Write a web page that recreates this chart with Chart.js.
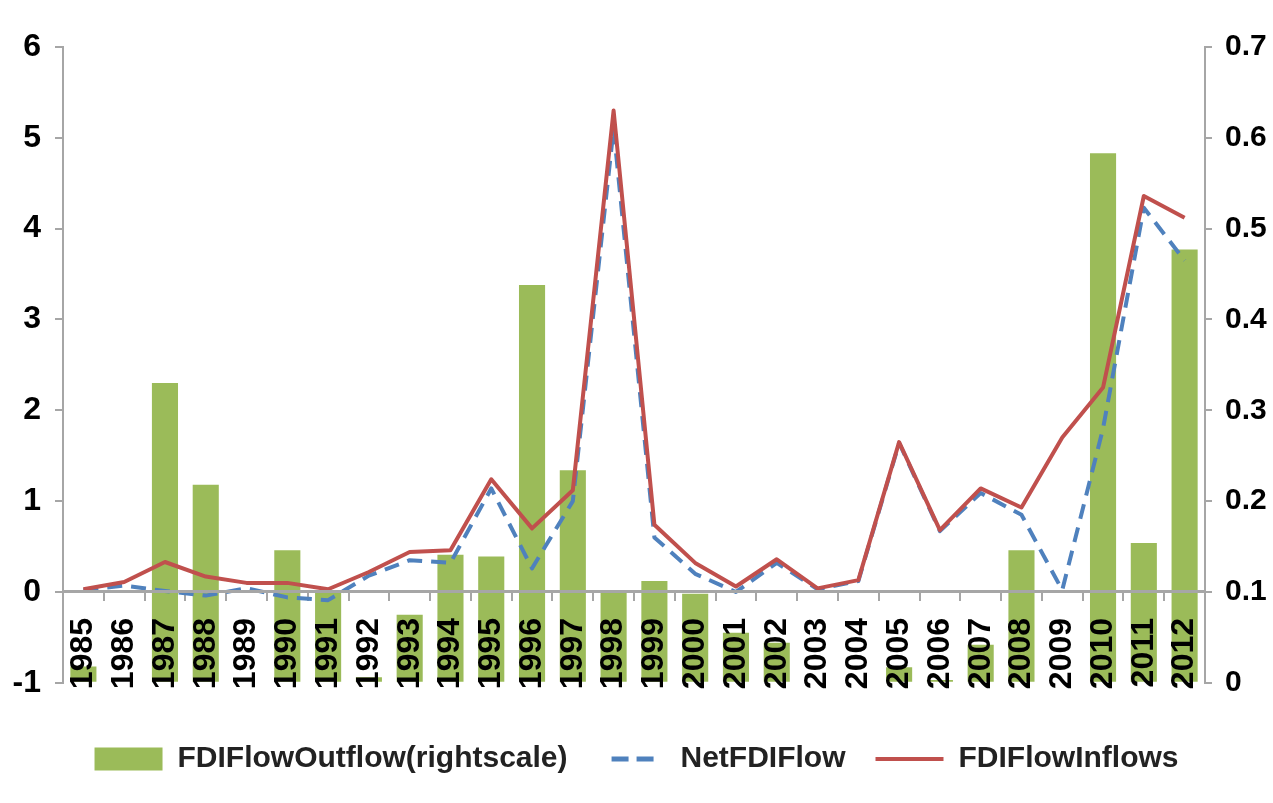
<!DOCTYPE html>
<html>
<head>
<meta charset="utf-8">
<script src="https://cdn.jsdelivr.net/npm/chart.js@4.4.1/dist/chart.umd.min.js"></script>
<style>
  html, body { margin: 0; background: #fff; }
  #wrap { width: 1273px; height: 803px; position: relative; }
</style>
</head>
<body>
<div id="wrap"><canvas id="fdi-chart"></canvas></div>
<script>
// ── FDI flows 1985–2012 ───────────────────────────────────────────────────────
const years = [
  '1985', '1986', '1987', '1988', '1989', '1990', '1991', '1992', '1993', '1994',
  '1995', '1996', '1997', '1998', '1999', '2000', '2001', '2002', '2003', '2004',
  '2005', '2006', '2007', '2008', '2009', '2010', '2011', '2012',
];

// outflow, plotted against the right scale
const outflow = [
  0.018, 0, 0.33, 0.218, 0, 0.146, 0.10, 0.006, 0.075, 0.141,
  0.139, 0.438, 0.234, 0.099, 0.112, 0.098, 0.055, 0.044, 0, 0,
  0.017, 0.003, 0.042, 0.146, 0, 0.583, 0.154, 0.477,
];

const netFlow = [
  0.02, 0.07, 0.01, -0.04, 0.04, -0.06, -0.09, 0.18, 0.35, 0.32,
  1.14, 0.26, 1.00, 5.10, 0.60, 0.20, 0.00, 0.32, 0.03, 0.12,
  1.64, 0.67, 1.09, 0.85, 0.02, 1.80, 4.23, 3.65,
];

const inflows = [
  0.03, 0.11, 0.33, 0.17, 0.10, 0.10, 0.03, 0.22, 0.44, 0.46,
  1.24, 0.70, 1.12, 5.30, 0.74, 0.32, 0.06, 0.36, 0.04, 0.13,
  1.65, 0.68, 1.14, 0.93, 1.70, 2.25, 4.36, 4.12,
];

const leftTicks  = { min: -1, max: 6, step: 1 };
const rightTicks = { min: 0, max: 0.7, step: 0.1 };

const FONT  = "'Liberation Sans', Arial, sans-serif";
const AXIS  = '#a6a6a6';
const GREEN = '#9bbb59';
const BLUE  = '#4f81bd';
const RED   = '#c0504d';

// legend's point-style line ignores borderDash, so hand it a small dashed swatch
function _dashSwatch(color) {
  const c = document.createElement('canvas');
  c.width = 68; c.height = 8;
  const g = c.getContext('2d');
  g.strokeStyle = color;
  g.lineWidth = 5;
  g.setLineDash([17, 8]);
  g.beginPath(); g.moveTo(14, 4); g.lineTo(56, 4); g.stroke();
  return c;
}
const _netSwatch = _dashSwatch(BLUE);

new Chart(document.getElementById('fdi-chart'), {
  type: 'bar',
  data: {
    labels: years,
    datasets: [
      {
        type: 'bar',
        label: 'FDIFlowOutflow(rightscale)',
        data: outflow,
        yAxisID: 'y1',
        backgroundColor: GREEN,
        borderWidth: 0,
        barPercentage: 0.64,
        categoryPercentage: 1,
        pointStyle: 'rect',
        order: 3,
      },
      {
        type: 'line',
        label: 'NetFDIFlow',
        data: netFlow,
        yAxisID: 'y',
        borderColor: BLUE,
        backgroundColor: BLUE,
        borderWidth: 4,
        borderDash: [15, 9],
        borderJoinStyle: 'round',
        pointRadius: 0,
        pointStyle: 'line',
        tension: 0,
        order: 2,
      },
      {
        type: 'line',
        label: 'FDIFlowInflows',
        data: inflows,
        yAxisID: 'y',
        borderColor: RED,
        backgroundColor: RED,
        borderWidth: 4,
        borderJoinStyle: 'round',
        pointRadius: 0,
        pointStyle: 'line',
        tension: 0,
        order: 1,
      },
    ],
  },
  options: {
    responsive: true,
    maintainAspectRatio: false,
    animation: false,
    layout: { padding: { top: 47, left: 0, right: 0, bottom: 19 } },
    plugins: {
      tooltip: { enabled: false },
      legend: {
        position: 'bottom',
        // blank title only pushes the legend row down, away from the year labels
        title: { display: true, text: ' ', font: { size: 1 }, padding: { top: 30, bottom: 0 } },
        labels: {
          usePointStyle: true,
          pointStyleWidth: 68,
          boxHeight: 23,
          padding: 30,
          color: '#222',
          font: { family: FONT, size: 30, weight: 'bold' },
          sort: (a, b) => a.datasetIndex - b.datasetIndex,
          generateLabels: chart => {
            const items = Chart.defaults.plugins.legend.labels.generateLabels(chart);
            items.forEach(it => { if (it.datasetIndex === 1) it.pointStyle = _netSwatch; });
            return items;
          },
        },
      },
    },
    scales: {
      x: {
        position: { y: 0 },
        offset: true,
        grid: { offset: true, drawOnChartArea: false, tickLength: 8, color: AXIS, lineWidth: 2 },
        border: { color: AXIS, width: 3, z: 1 },
        ticks: {
          z: 2,
          autoSkip: false,
          minRotation: 90,
          maxRotation: 90,
          padding: 18,
          color: '#000',
          font: { family: FONT, size: 32, weight: 'bold' },
        },
      },
      y: {
        position: 'left',
        min: leftTicks.min,
        max: leftTicks.max,
        grid: { drawOnChartArea: false, tickLength: 8, color: AXIS, lineWidth: 2 },
        border: { color: AXIS, width: 2 },
        ticks: {
          stepSize: leftTicks.step,
          padding: 14,
          color: '#000',
          font: { family: FONT, size: 32, weight: 'bold' },
        },
        afterFit: s => { s.width = 63; },
      },
      y1: {
        position: 'right',
        min: rightTicks.min,
        max: rightTicks.max,
        grid: { drawOnChartArea: false, tickLength: 7, color: AXIS, lineWidth: 2 },
        border: { color: AXIS, width: 2 },
        ticks: {
          stepSize: rightTicks.step,
          padding: 13,
          color: '#000',
          font: { family: FONT, size: 30, weight: 'bold' },
          callback: v => (Math.abs(v) < 1e-9 ? '0' : v.toFixed(1)),
        },
        afterFit: s => { s.width = 68; },
      },
    },
  },
});
</script>
</body>
</html>
